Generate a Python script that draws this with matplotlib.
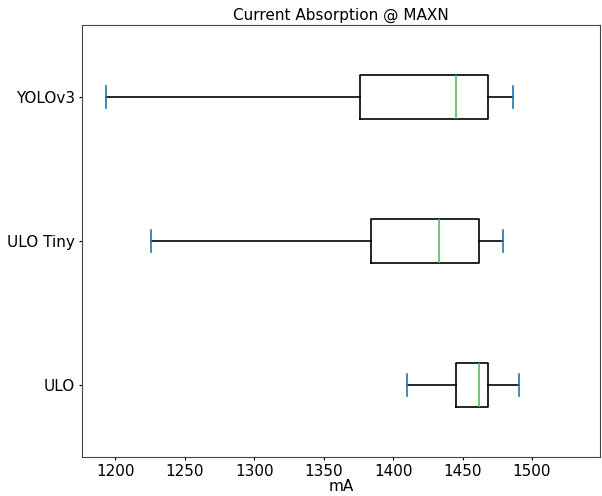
import matplotlib
matplotlib.use("Agg")
from matplotlib import pyplot as plt

# box statistics [mA], bottom to top
labels = ["ULO", "ULO Tiny", "YOLOv3"]
whislo = [1410, 1226, 1193]
q1 = [1445, 1384, 1376]
med = [1462, 1433, 1445]
q3 = [1468, 1462, 1468]
whishi = [1491, 1479, 1486]

stats = []
for i in range(len(labels)):
    stats.append({"label": labels[i], "whislo": whislo[i], "q1": q1[i],
                  "med": med[i], "q3": q3[i], "whishi": whishi[i], "fliers": []})

fig = plt.figure(figsize=(6.02, 4.96), dpi=100)
ax = fig.add_axes([82 / 602, 1 - 457 / 496, 518 / 602, 432 / 496])

ax.bxp(stats, vert=False, widths=0.3, showfliers=False,
       boxprops=dict(color="black", linewidth=1.2),
       whiskerprops=dict(color="black", linewidth=1.2),
       capprops=dict(color="#1f77b4", linewidth=1.2),
       medianprops=dict(color="#5cb85c", linewidth=1.2))

ax.set_xlim(1176, 1549)
ax.set_ylim(0.5, 3.5)
ax.set_xticks([1200, 1250, 1300, 1350, 1400, 1450, 1500])
ax.tick_params(labelsize=11, length=2.5, pad=2.5)
for s in ax.spines.values():
    s.set_color("#444444")
ax.set_xlabel("mA", fontsize=11, labelpad=0)
ax.set_title("Current Absorption @ MAXN", fontsize=11, pad=4)

fig.savefig("out.png", dpi=100)
